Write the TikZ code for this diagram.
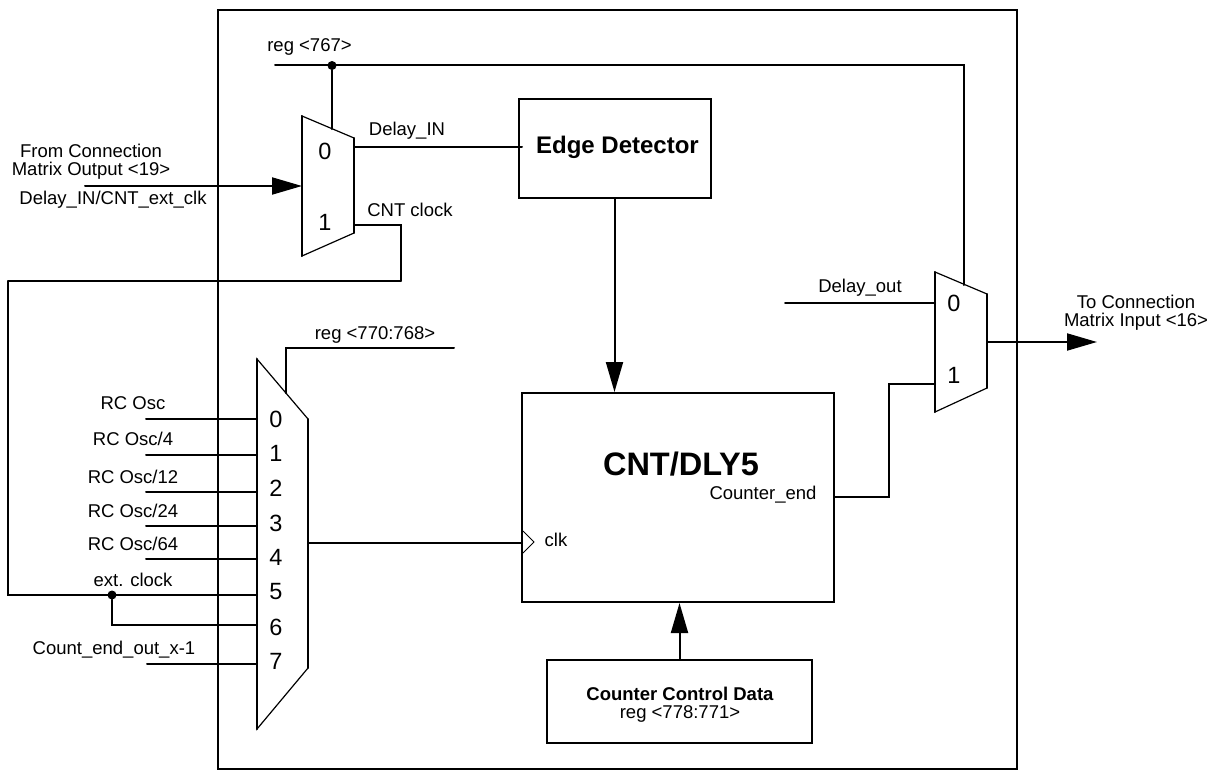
\documentclass[tikz,border=0pt]{standalone}
\usepackage{fontspec}
\setmainfont{Liberation Sans}
\usetikzlibrary{arrows.meta}
\begin{document}
\begin{tikzpicture}[x=1pt,y=-1pt]
\tikzset{wire/.style = {-, line width=2pt, line cap=round}}
\tikzset{arrowwire/.style = {wire, -{Triangle[length=30pt,width=17pt]}}}
\tikzset{block/.style = {shape=rectangle, draw, line width=2pt, inner sep=0pt}}
\tikzset{muxbody/.style = {draw, line width=1.2pt, line join=miter}}
\tikzset{junction/.style = {shape=circle, fill, inner sep=0pt, minimum size=9pt}}
\tikzset{lab/.style = {inner sep=0pt, align=center, font=\fontsize{18.5}{18}\selectfont}}
\tikzset{digit/.style = {inner sep=0pt, font=\fontsize{23.5}{26}\selectfont}}
\useasboundingbox (0,0) rectangle (1216,771);
% frame and blocks
\node[block, minimum width=799pt, minimum height=759pt](frame) at (617.5,389.5) {};
\node[block, minimum width=192pt, minimum height=99pt](det) at (614.5,148.5) {};
\node[block, minimum width=312pt, minimum height=209pt](cnt) at (678,497.5) {};
\node[block, minimum width=265pt, minimum height=83pt](ctrl) at (679.5,701.5) {};
\node[inner sep=0pt, font=\fontsize{24}{26}\selectfont\bfseries](detname) at (617.5,147) {Edge Detector};
\node[lab](ctrlname) at (680,705) {\textbf{Counter Control Data}\\reg <778:771>};
\node[inner sep=0pt, font=\fontsize{32.5}{34}\selectfont\bfseries](cntname) at (681,464) {CNT/DLY5};
\node[lab](cntclk) at (556,540) {clk};
\node[lab](cntend) at (763,495) {Counter\_end};
% input mux
\coordinate (m0a) at (302,116);
\coordinate (m0b) at (354,138);
\coordinate (m0c) at (354,233);
\coordinate (m0d) at (302,256);
\draw[muxbody] (m0a) -- (m0b) -- (m0c) -- (m0d) -- cycle;
\draw[wire] (m0a) -- (m0d);
\draw[wire] (m0b) -- (m0c);
\node[digit](m0i0) at (325,151) {0};
\node[digit](m0i1) at (325,222) {1};
% clock mux
\coordinate (m1a) at (257,359);
\coordinate (m1b) at (308,419);
\coordinate (m1c) at (308,668);
\coordinate (m1d) at (257,729);
\draw[muxbody] (m1a) -- (m1b) -- (m1c) -- (m1d) -- cycle;
\draw[wire] (m1a) -- (m1d);
\draw[wire] (m1b) -- (m1c);
\node[digit](m1i0) at (276,419) {0};
\node[digit](m1i1) at (276,453) {1};
\node[digit](m1i2) at (276,488) {2};
\node[digit](m1i3) at (276,523) {3};
\node[digit](m1i4) at (276,557) {4};
\node[digit](m1i5) at (276,592) {5};
\node[digit](m1i6) at (276,627) {6};
\node[digit](m1i7) at (276,661) {7};
% output mux
\coordinate (m2a) at (935,272);
\coordinate (m2b) at (987,294);
\coordinate (m2c) at (987,388);
\coordinate (m2d) at (935,412);
\draw[muxbody] (m2a) -- (m2b) -- (m2c) -- (m2d) -- cycle;
\draw[wire] (m2a) -- (m2d);
\draw[wire] (m2b) -- (m2c);
\node[digit](m2i0) at (954,303) {0};
\node[digit](m2i1) at (954,375) {1};
% clock sources
\coordinate (s0) at (146,419);
\coordinate (s1) at (146,455);
\coordinate (s2) at (146,492);
\coordinate (s3) at (146,526);
\coordinate (s4) at (146,559);
\coordinate (s7) at (147,664);
\draw[wire] (s0) -- (s0 -| m1a);
\draw[wire] (s1) -- (s1 -| m1a);
\draw[wire] (s2) -- (s2 -| m1a);
\draw[wire] (s3) -- (s3 -| m1a);
\draw[wire] (s4) -- (s4 -| m1a);
\draw[wire] (s7) -- (s7 -| m1a);
\node[lab](s0lab) at (133,403) {RC Osc};
\node[lab](s1lab) at (133,439) {RC Osc/4};
\node[lab](s2lab) at (133,477) {RC Osc/12};
\node[lab](s3lab) at (133,511) {RC Osc/24};
\node[lab](s4lab) at (133,544) {RC Osc/64};
\node[lab](s5lab) at (133,580) {ext. clock};
\node[lab](s7lab) at (114,650) {Count\_end\_out\_x-1};
% external clock loop
\coordinate (c0) at (354,225);
\coordinate (c1) at (401,225);
\coordinate (c2) at (401,281);
\coordinate (c3) at (8,281);
\coordinate (c4) at (8,595);
\coordinate (c5) at (257,595);
\coordinate (c6) at (112,625);
\coordinate (c7) at (257,625);
\node[junction](extdot) at (112,595) {};
\draw[wire] (c0) -- (c1) -- (c2);
\draw[wire, line width=1.3pt] (c2) -- (c3);
\draw[wire] (c3) -- (c4) -- (c5);
\draw[wire] (extdot) -- (c6) -- (c7);
\node[lab](cntclock) at (410,210) {CNT clock};
% input and delay path
\coordinate (in) at (85,186);
\coordinate (in1) at (302,186);
\coordinate (dly0) at (354,147);
\coordinate (dly1) at (522,147);
\draw[arrowwire] (in) -- (in1);
\draw[wire] (dly0) -- (dly1);
\node[lab](inlab) at (91,162) {From Connection\\Matrix Output <19>};
\node[lab](inname) at (113,200) {Delay\_IN/CNT\_ext\_clk};
\node[lab](dlylab) at (407,131) {Delay\_IN};
\draw[arrowwire] (det.south) -- (det.south |- cnt.north);
\draw[arrowwire] (ctrl.north) -- (ctrl.north |- cnt.south);
% select lines
\coordinate (r0) at (275,65);
\coordinate (r1) at (964,65);
\coordinate (r2) at (964,285);
\coordinate (r3) at (332,129);
\node[junction](regdot) at (332,65.5) {};
\draw[wire] (r0) -- (r1) -- (r2);
\draw[wire] (regdot) -- (r3);
\node[lab](reglab) at (309.5,47) {reg <767>};
\coordinate (q0) at (454,348);
\coordinate (q1) at (286,348);
\coordinate (q2) at (286,393);
\draw[wire] (q0) -- (q1) -- (q2);
\node[lab](qlab) at (375,335) {reg <770:768>};
% counter clock and outputs
\coordinate (k0) at (308,543);
\coordinate (k1) at (522,543);
\coordinate (k2) at (523,531);
\coordinate (k3) at (534,542);
\coordinate (k4) at (523,553);
\draw[wire] (k0) -- (k1);
\draw[line width=0.9pt] (k2) -- (k3) -- (k4);
\coordinate (e0) at (834,497);
\coordinate (e1) at (889,497);
\coordinate (e2) at (889,384);
\coordinate (e3) at (935,384);
\draw[wire] (e0) -- (e1) -- (e2) -- (e3);
\coordinate (o0) at (785,303);
\coordinate (o1) at (935,303);
\draw[wire] (o0) -- (o1);
\node[lab](olab) at (860,288) {Delay\_out};
\coordinate (t0) at (987,342);
\coordinate (t1) at (1097,342);
\draw[arrowwire] (t0) -- (t1);
\node[lab](tlab) at (1136,312.5) {To Connection\\Matrix Input <16>};
\end{tikzpicture}
\end{document}
